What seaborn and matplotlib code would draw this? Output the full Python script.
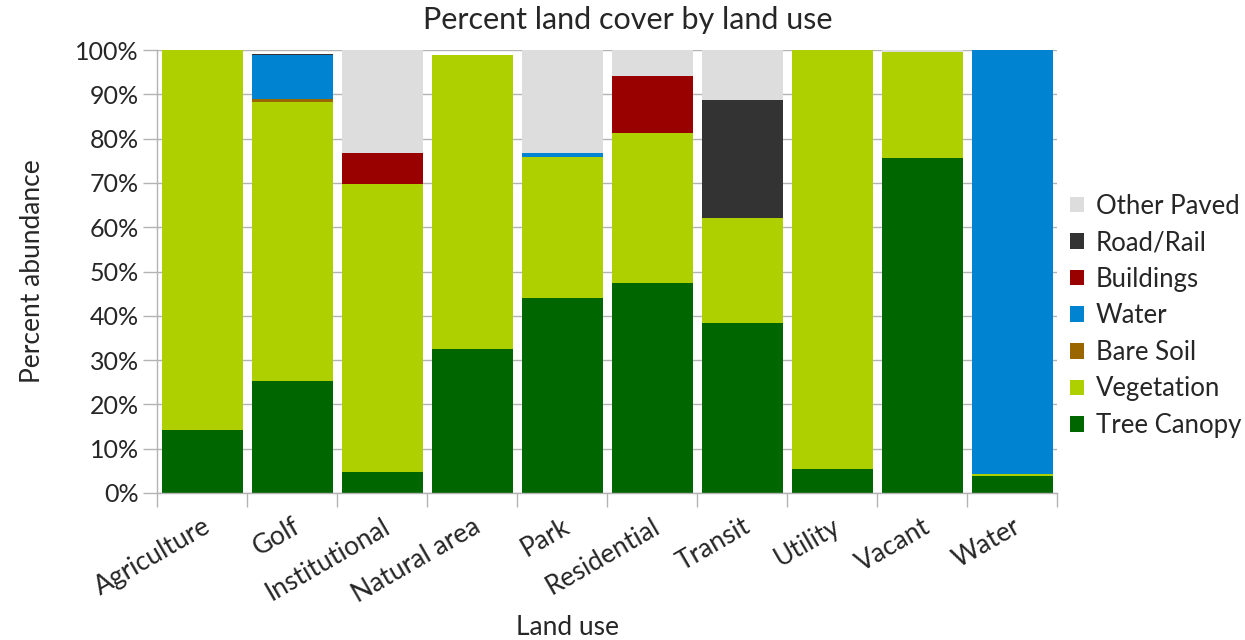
import numpy as np
import pandas as pd
import matplotlib.pyplot as plt
import seaborn as sns
from matplotlib.patches import Patch
from matplotlib.ticker import PercentFormatter, FixedLocator

sns.set_theme(style="white")
plt.rcParams['font.family'] = ['Lato', 'DejaVu Sans']

# Land use categories (x axis)
land_use = ['Agriculture', 'Golf', 'Institutional', 'Natural area', 'Park',
            'Residential', 'Transit', 'Utility', 'Vacant', 'Water']

# Percent of each land use covered by each cover class (bottom to top)
tree_canopy = [14.2, 25.3, 4.7, 32.5, 44.0, 47.4, 38.4, 5.4, 75.6, 3.8]
vegetation = [85.8, 63.0, 65.1, 66.4, 31.8, 33.9, 23.7, 94.6, 24.0, 0.5]
bare_soil = [0.0, 0.7, 0.0, 0.0, 0.0, 0.0, 0.0, 0.0, 0.0, 0.0]
water = [0.0, 9.9, 0.0, 0.0, 0.9, 0.0, 0.0, 0.0, 0.0, 95.7]
buildings = [0.0, 0.0, 6.9, 0.0, 0.0, 12.8, 0.0, 0.0, 0.0, 0.0]
road_rail = [0.0, 0.3, 0.0, 0.0, 0.0, 0.0, 26.6, 0.0, 0.0, 0.0]
other_paved = [0.0, 0.0, 23.3, 0.0, 23.3, 5.9, 11.3, 0.0, 0.3, 0.0]

classes = ['Tree Canopy', 'Vegetation', 'Bare Soil', 'Water',
           'Buildings', 'Road/Rail', 'Other Paved']
colors = ['#006600', '#aecf00', '#996600', '#0084d1',
          '#990000', '#333333', '#dddddd']

df = pd.DataFrame({
    'Land use': land_use,
    'Tree Canopy': tree_canopy,
    'Vegetation': vegetation,
    'Bare Soil': bare_soil,
    'Water': water,
    'Buildings': buildings,
    'Road/Rail': road_rail,
    'Other Paved': other_paved,
})

# cumulative tops so each layer can be drawn from zero, top layer first
cum = df[classes].cumsum(axis=1)
cum['Land use'] = df['Land use']

fig = plt.figure(figsize=(12.45, 6.4), dpi=100)
ax = fig.add_axes([157 / 1245, 1 - 493 / 640, 900 / 1245, 443 / 640])

for cls, col in reversed(list(zip(classes, colors))):
    sns.barplot(data=cum, x='Land use', y=cls, color=col, width=0.9,
                saturation=1, linewidth=0, ax=ax, zorder=2)

ax.set_xlim(-0.5, len(land_use) - 0.5)
ax.set_ylim(0, 100)
ax.yaxis.set_major_locator(FixedLocator(np.arange(0, 101, 10)))
ax.yaxis.set_major_formatter(PercentFormatter(decimals=0))
ax.grid(axis='y', color='#b3b3b3', linewidth=1, zorder=0)
ax.set_axisbelow(True)

for side in ['top', 'right']:
    ax.spines[side].set_visible(False)
for side in ['left', 'bottom']:
    ax.spines[side].set_color('#b3b3b3')
    ax.spines[side].set_linewidth(1)

# category boundary ticks on x axis
ax.set_xticks(np.arange(len(land_use)))
ax.set_xticklabels(land_use, rotation=30, ha='right', va='top',
                   rotation_mode='anchor', fontsize=19)
ax.tick_params(axis='x', length=0, pad=15)
ax.set_xticks(np.arange(-0.5, len(land_use)), minor=True)
ax.tick_params(axis='x', which='minor', length=10, color='#b3b3b3',
               width=1, bottom=True)
ax.tick_params(axis='y', length=10, color='#b3b3b3', width=1, left=True,
               labelsize=18, pad=3)

ax.set_xlabel('Land use', fontsize=19, va='center')
ax.xaxis.set_label_coords(0.456, -0.303)
ax.set_ylabel('Percent abundance', fontsize=19, labelpad=22)
fig.suptitle('Percent land cover by land use', fontsize=22, x=0.504, y=0.99)

handles = [Patch(facecolor=c, edgecolor='none', label=l)
           for l, c in zip(classes[::-1], colors[::-1])]
ax.legend(handles=handles, loc='center left', bbox_to_anchor=(1.0, 0.40),
          frameon=False, fontsize=18.5, handlelength=0.55, handleheight=0.55,
          handletextpad=0.45, labelspacing=0.45, borderpad=0.3,
          borderaxespad=0.2)

plt.savefig('out.png', dpi=100)
